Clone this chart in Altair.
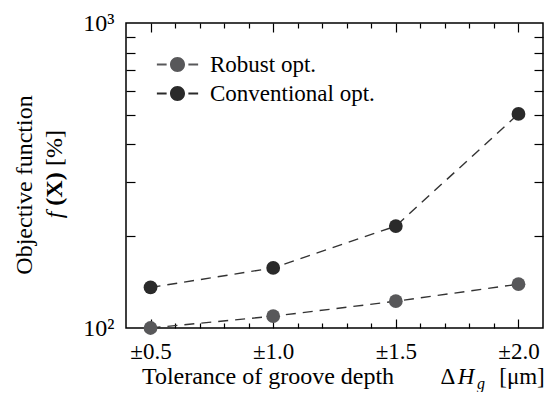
import altair as alt
import pandas as pd

# ---- data ----
tolerance = [0.5, 1.0, 1.5, 2.0]
robust = [100, 109.3, 122.4, 139.2]
conventional = [135.8, 157.4, 215.8, 503.5]
series_names = ["Robust opt.", "Conventional opt."]
series_colors = ["#58585a", "#2a2a2a"]

x_major = [0.5, 1.0, 1.5, 2.0]
x_minor = [0.6, 0.7, 0.8, 0.9, 1.1, 1.2, 1.3, 1.4, 1.6, 1.7, 1.8, 1.9]
y_label_values = [100, 1000]
y_minor = [200, 300, 400, 500, 600, 700, 800, 900]

df = pd.DataFrame(
    {
        "tol": tolerance * 2,
        "val": robust + conventional,
        "series": [series_names[0]] * 4 + [series_names[1]] * 4,
    }
)

W, H = 417, 305
FONT = "Liberation Serif, Times New Roman, serif"
FS = 22

xscale = alt.Scale(domain=[0.4, 2.1], nice=False, zero=False)
yscale = alt.Scale(type="log", domain=[100, 1000], nice=False)

LEGEND_PATH = (
    "M-2.75,-0.13 L-1.45,-0.13 L-1.45,0.13 L-2.75,0.13 Z "
    "M1.45,-0.13 L2.75,-0.13 L2.75,0.13 L1.45,0.13 Z "
    "M1,0 A1,1 0 1,1 -1,0 A1,1 0 1,1 1,0 Z"
)


def tick_axis(orient, values, size):
    off = -H if orient in ("top", "bottom") else -W
    return alt.Axis(
        orient=orient, offset=off, values=values, tickSize=size, tickWidth=1.2,
        tickColor="black", labels=False, domain=False, grid=False, title=None,
    )


base = alt.Chart(df)

line = base.mark_line(strokeDash=[10, 7], strokeWidth=1.4, color="#333333").encode(
    x=alt.X("tol:Q", scale=xscale, axis=alt.Axis(
        orient="bottom", values=x_major, ticks=False, domain=False, grid=False,
        labelExpr="'±' + format(datum.value, '.1f')", labelFont=FONT,
        labelFontSize=23, labelColor="black", labelPadding=12, title=None)),
    y=alt.Y("val:Q", scale=yscale, axis=alt.Axis(
        orient="left", values=y_label_values, ticks=False, domain=False, grid=False,
        labelExpr="datum.value == 100 ? '10²' : '10³'", labelFont=FONT,
        labelFontSize=24, labelColor="black", labelPadding=12, title=None)),
    detail="series:N",
)

points = base.mark_point(filled=True, size=190, opacity=1).encode(
    x=alt.X("tol:Q", scale=xscale, axis=tick_axis("top", x_major, 9)),
    y=alt.Y("val:Q", scale=yscale, axis=tick_axis("right", y_minor, 9)),
    color=alt.Color(
        "series:N",
        scale=alt.Scale(domain=series_names, range=series_colors),
        legend=alt.Legend(
            orient="none", legendX=40, legendY=30, direction="vertical", title=None,
            symbolType=LEGEND_PATH, symbolSize=225, symbolStrokeWidth=0,
            labelFont=FONT, labelFontSize=23, labelColor="black", labelOffset=21,
            rowPadding=5, padding=0, labelLimit=400,
        ),
    ),
)

ghost1 = base.mark_point(opacity=0).encode(
    x=alt.X("tol:Q", scale=xscale, axis=tick_axis("top", x_minor, 5)),
    y=alt.Y("val:Q", scale=yscale, axis=tick_axis("left", y_minor, 9)),
)
ghost2 = base.mark_point(opacity=0).encode(
    x=alt.X("tol:Q", scale=xscale, axis=tick_axis("bottom", x_major, 9)),
    y=alt.Y("val:Q", scale=yscale, axis=None),
)
ghost3 = base.mark_point(opacity=0).encode(
    x=alt.X("tol:Q", scale=xscale, axis=tick_axis("bottom", x_minor, 5)),
    y=alt.Y("val:Q", scale=yscale, axis=None),
)

one = pd.DataFrame({"k": [0]})


def label(txt, x, y, size=FS, angle=0, style="normal", weight="normal", baseline="alphabetic"):
    return alt.Chart(one).mark_text(
        text=txt, font=FONT, fontSize=size, fontStyle=style, fontWeight=weight,
        angle=angle, align="center", baseline=baseline, color="black",
    ).encode(x=alt.value(x), y=alt.value(y))


titles = [
    label("Objective function", -101, 162, size=24, angle=270, baseline="middle"),
    label("f", -71, 192, size=24, angle=270, style="italic", baseline="middle"),
    label("(X)", -71, 166, size=24, angle=270, weight="bold", baseline="middle"),
    label("[%]", -71, 125, size=24, angle=270, baseline="middle"),
    label("Tolerance of groove depth", 142, 361, size=24),
    label("Δ", 322, 361, size=23),
    label("H", 340, 361, size=23, style="italic"),
    label("g", 355, 366, size=16, style="italic"),
    label("[μm]", 396, 361, size=23),
]

chart = (
    alt.layer(line, points, ghost1, ghost2, ghost3, *titles)
    .resolve_axis(x="independent", y="independent")
    .properties(
        width=W, height=H,
        padding={"left": 118, "top": 15, "right": 7, "bottom": 64},
        autosize=alt.AutoSizeParams(type="none"),
    )
    .configure(font=FONT)
    .configure_view(stroke="black", strokeWidth=1.5)
    .configure_axis(labelFont=FONT, titleFont=FONT)
    .configure_legend(labelFont=FONT)
    .configure_text(font=FONT)
)

chart.save("out.html", embed_options={"renderer": "svg", "actions": False})
